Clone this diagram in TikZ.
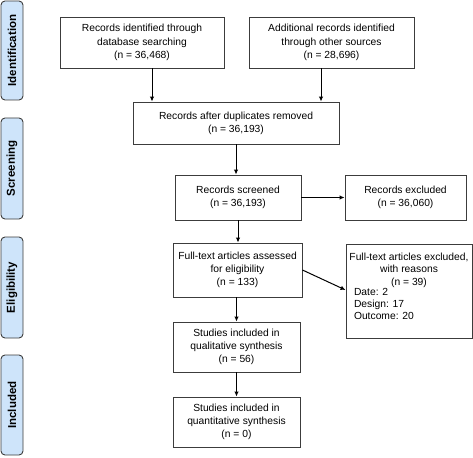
\documentclass[tikz,border=0pt]{standalone}
\usepackage{fontspec}
\setmainfont{Liberation Sans}
\usetikzlibrary{arrows.meta}
\definecolor{sidefill}{RGB}{206,228,250}
\definecolor{edgegray}{RGB}{60,60,60}
\begin{document}
\begin{tikzpicture}[x=1pt,y=-1pt,
  box/.style={draw=edgegray,line width=0.9pt,rectangle,inner sep=0pt,align=center,
    font=\fontsize{10.3}{13.3}\selectfont},
  side/.style={draw=edgegray,fill=sidefill,line width=0.9pt,rounded corners=4pt,
    minimum width=22pt,inner sep=0pt},
  sidetext/.style={rotate=90,font=\fontsize{11.5}{13}\selectfont\bfseries},
  arr/.style={line width=1pt,-{Latex[length=5pt,width=4.5pt]}}]
\useasboundingbox (0,0) rectangle (473,457);
% side labels
\node[side,minimum height=99pt] (sI) at (12,50.5) {};
\node[sidetext] (tI) at (sI.center) {Identification};
\node[side,minimum height=101pt] (sS) at (12,168.5) {};
\node[sidetext] (tS) at (sS.center) {Screening};
\node[side,minimum height=101pt] (sE) at (12,287.5) {};
\node[sidetext] (tE) at (sE.center) {Eligibility};
\node[side,minimum height=100pt] (sN) at (12,405) {};
\node[sidetext] (tN) at (sN.center) {Included};
% boxes
\node[box,minimum width=164pt,minimum height=51pt] (b1) at (142,42.5)
  {Records identified through\\database searching\\(n = 36,468)};
\node[box,minimum width=165pt,minimum height=51pt] (b2) at (331.5,42.5)
  {Additional records identified\\through other sources\\(n = 28,696)};
\node[box,minimum width=206pt,minimum height=42pt] (b3) at (236,123)
  {Records after duplicates removed\\(n = 36,193)};
\node[box,minimum width=126pt,minimum height=45pt] (b4) at (238,197.5)
  {Records screened\\(n = 36,193)};
\node[box,minimum width=121pt,minimum height=45pt] (b5) at (405.5,197.5)
  {Records excluded\\(n = 36,060)};
\node[box,minimum width=129pt,minimum height=54pt] (b6) at (237.5,270)
  {Full-text articles assessed\\for eligibility\\(n = 133)};
\node[box,minimum width=126pt,minimum height=94pt] (b7) at (409,291) {};
\node[box,draw=none,anchor=north,font=\fontsize{10.3}{12.3}\selectfont] (b7a) at ([yshift=-9pt]b7.north)
  {Full-text articles excluded,\\with reasons\\(n = 39)};
\node[box,draw=none,anchor=north west,align=left,font=\fontsize{10.3}{12.3}\selectfont] (b7b) at ([xshift=8pt]b7.west |- b7a.south)
  {Date: 2\\Design: 17\\Outcome: 20};
\node[box,minimum width=127pt,minimum height=50pt] (b8) at (236.5,347)
  {Studies included in\\qualitative synthesis\\(n = 56)};
\node[box,minimum width=127pt,minimum height=50pt] (b9) at (236.5,422)
  {Studies included in\\quantitative synthesis\\(n = 0)};
% connectors
\coordinate (c1) at (152,0);
\coordinate (c2) at (321,0);
\draw[arr] (c1 |- b1.south) -- (c1 |- b3.north);
\draw[arr] (c2 |- b2.south) -- (c2 |- b3.north);
\draw[arr] (b3.south) -- (b3.south |- b4.north);
\draw[arr] (b4.south) -- (b4.south |- b6.north);
\draw[arr] (b4.east) -- (b5.west);
\draw[arr] (b6.east) -- ([yshift=1pt]b7.west);
\draw[arr] (b6.south -| b8.north) -- (b8.north);
\draw[arr] (b8.south) -- (b9.north);
\end{tikzpicture}
\end{document}
